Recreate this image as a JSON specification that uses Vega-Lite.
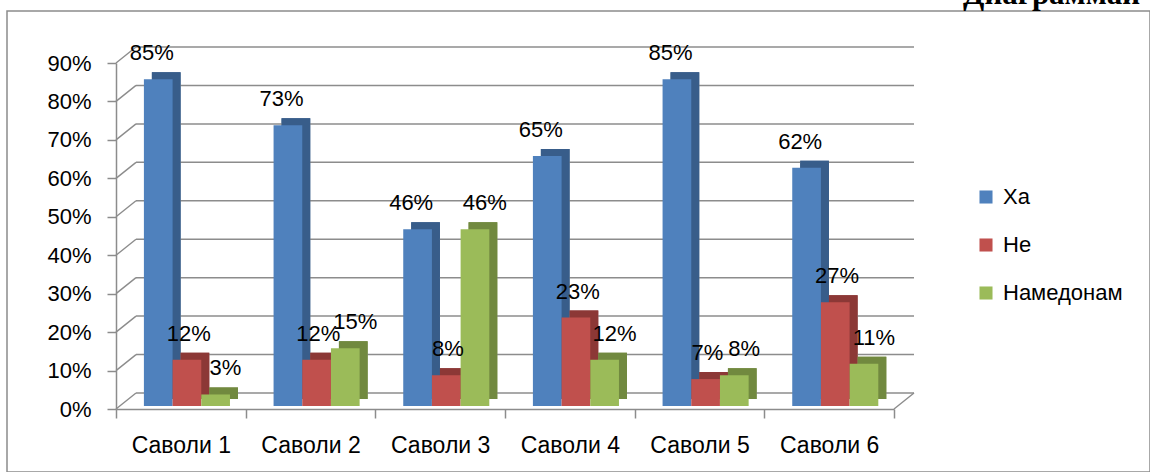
{
  "$schema": "https://vega.github.io/schema/vega-lite/v6.json",
  "width": 1143,
  "height": 461,
  "autosize": "none",
  "padding": {"left": 7, "top": 11, "right": 0, "bottom": 0},
  "background": "white",
  "config": {
    "view": {"stroke": "#8c8c8c", "strokeWidth": 1.5},
    "font": "Liberation Sans"
  },
  "title": {
    "text": "Диаграммаи",
    "anchor": "end",
    "frame": "group",
    "font": "Liberation Serif",
    "fontWeight": "bold",
    "fontSize": 31,
    "color": "black",
    "baseline": "alphabetic",
    "offset": 6,
    "dx": -10,
    "dy": 30
  },
  "datasets": {
    "bars": [
      {"q": "Саволи 1", "s": "Ха", "v": 0.85},
      {"q": "Саволи 1", "s": "Не", "v": 0.12},
      {"q": "Саволи 1", "s": "Намедонам", "v": 0.03},
      {"q": "Саволи 2", "s": "Ха", "v": 0.73},
      {"q": "Саволи 2", "s": "Не", "v": 0.12},
      {"q": "Саволи 2", "s": "Намедонам", "v": 0.15},
      {"q": "Саволи 3", "s": "Ха", "v": 0.46},
      {"q": "Саволи 3", "s": "Не", "v": 0.08},
      {"q": "Саволи 3", "s": "Намедонам", "v": 0.46},
      {"q": "Саволи 4", "s": "Ха", "v": 0.65},
      {"q": "Саволи 4", "s": "Не", "v": 0.23},
      {"q": "Саволи 4", "s": "Намедонам", "v": 0.12},
      {"q": "Саволи 5", "s": "Ха", "v": 0.85},
      {"q": "Саволи 5", "s": "Не", "v": 0.07},
      {"q": "Саволи 5", "s": "Намедонам", "v": 0.08},
      {"q": "Саволи 6", "s": "Ха", "v": 0.62},
      {"q": "Саволи 6", "s": "Не", "v": 0.27},
      {"q": "Саволи 6", "s": "Намедонам", "v": 0.11}
    ],
    "grid": [
      {"v": 0}, {"v": 0.1}, {"v": 0.2}, {"v": 0.3}, {"v": 0.4},
      {"v": 0.5}, {"v": 0.6}, {"v": 0.7}, {"v": 0.8}, {"v": 0.9}
    ],
    "floor": [{"v": 0}]
  },
  "layer": [
    {
      "data": {"name": "bars"},
      "mark": {"type": "bar", "yOffset": -10, "y2Offset": -10},
      "encoding": {
        "x": {
          "field": "q", "type": "nominal",
          "scale": {"domain": ["Саволи 1", "Саволи 2", "Саволи 3", "Саволи 4", "Саволи 5", "Саволи 6"], "range": [109, 887], "paddingInner": 0, "paddingOuter": 0},
          "axis": {
            "title": null, "offset": -63, "labelAngle": 0, "tickBand": "extent", "bandPosition": 0.5,
            "tickSize": 9, "tickColor": "#8c8c8c", "tickWidth": 1.5,
            "domainColor": "#8c8c8c", "domainWidth": 1.5,
            "labelFontSize": 23, "labelColor": "black", "labelPadding": 16
          }
        },
        "xOffset": {
          "field": "s", "type": "nominal",
          "scale": {"domain": ["Ха", "Не", "Намедонам"], "paddingInner": 0, "paddingOuter": 0.76, "align": 0.823}
        },
        "y": {
          "field": "v", "type": "quantitative",
          "scale": {"domain": [0, 0.9], "range": [398, 52], "nice": false, "zero": true},
          "axis": {
            "title": null, "offset": -109, "values": [0, 0.1, 0.2, 0.3, 0.4, 0.5, 0.6, 0.7, 0.8, 0.9],
            "format": ".0%", "grid": false, "tickSize": 9, "tickColor": "#8c8c8c", "tickWidth": 1.5,
            "domainColor": "#8c8c8c", "domainWidth": 1.5,
            "labelFontSize": 22, "labelColor": "black", "labelPadding": 16
          }
        },
        "color": {
          "field": "s", "type": "nominal",
          "scale": {"domain": ["Ха", "Не", "Намедонам"], "range": ["#385D8A", "#8C3836", "#71893F"]},
          "legend": null
        }
      }
    },
    {
      "data": {"name": "grid"},
      "mark": {"type": "rule", "color": "#8c8c8c", "strokeWidth": 1.5, "xOffset": 20, "x2Offset": 20, "yOffset": -16},
      "encoding": {
        "x": {"datum": "Саволи 1", "bandPosition": 0, "type": "nominal"},
        "x2": {"datum": "Саволи 6", "bandPosition": 1},
        "y": {"field": "v", "type": "quantitative"}
      }
    },
    {
      "data": {"name": "grid"},
      "mark": {"type": "rule", "color": "#8c8c8c", "strokeWidth": 1.5, "x2Offset": 20, "y2Offset": -16},
      "encoding": {
        "x": {"datum": "Саволи 1", "bandPosition": 0, "type": "nominal"},
        "x2": {"datum": "Саволи 1", "bandPosition": 0},
        "y": {"field": "v", "type": "quantitative"},
        "y2": {"field": "v"}
      }
    },
    {
      "data": {"name": "floor"},
      "mark": {"type": "rule", "color": "#8c8c8c", "strokeWidth": 1.5, "x2Offset": 20, "y2Offset": -16},
      "encoding": {
        "x": {"datum": "Саволи 6", "bandPosition": 1, "type": "nominal"},
        "x2": {"datum": "Саволи 6", "bandPosition": 1},
        "y": {"field": "v", "type": "quantitative"},
        "y2": {"field": "v"}
      }
    },
    {
      "data": {"name": "bars"},
      "mark": {"type": "bar", "yOffset": -10, "y2Offset": -10},
      "encoding": {
        "x": {"field": "q", "type": "nominal"},
        "xOffset": {
          "field": "s", "type": "nominal",
          "scale": {"domain": ["Ха", "Не", "Намедонам"], "paddingInner": 0, "paddingOuter": 0.76, "align": 0.823}
        },
        "y": {"field": "v", "type": "quantitative"},
        "color": {
          "field": "s", "type": "nominal",
          "scale": {"domain": ["Ха", "Не", "Намедонам"], "range": ["#385D8A", "#8C3836", "#71893F"]},
          "legend": null
        }
      }
    },
    {
      "data": {"name": "bars"},
      "mark": {"type": "bar", "yOffset": -3, "y2Offset": -3},
      "encoding": {
        "x": {"field": "q", "type": "nominal"},
        "xOffset": {
          "field": "s", "type": "nominal",
          "scale": {"domain": ["Ха", "Не", "Намедонам"], "paddingInner": 0, "paddingOuter": 0.76, "align": 0.64}
        },
        "y": {"field": "v", "type": "quantitative"},
        "color": {
          "field": "s", "type": "nominal",
          "scale": {"domain": ["Ха", "Не", "Намедонам"], "range": ["#4F81BD", "#C0504D", "#9BBB59"]},
          "legend": {
            "title": null, "orient": "none", "legendX": 968, "legendY": 175,
            "symbolType": "square", "symbolSize": 170, "symbolStrokeWidth": 0,
            "labelFontSize": 22, "labelColor": "black", "rowPadding": 26, "labelOffset": 6, "padding": 0
          }
        }
      }
    },
    {
      "data": {"name": "bars"},
      "mark": {"type": "text", "fontSize": 22, "color": "black", "baseline": "alphabetic", "dy": -22, "align": "center"},
      "encoding": {
        "x": {"field": "q", "type": "nominal"},
        "xOffset": {
          "field": "s", "type": "nominal",
          "scale": {"domain": ["Ха", "Не", "Намедонам"], "paddingInner": 0, "paddingOuter": 0.76, "align": 0.64}
        },
        "y": {"field": "v", "type": "quantitative"},
        "text": {"field": "v", "type": "quantitative", "format": ".0%"}
      }
    }
  ],
  "resolve": {"scale": {"color": "independent", "xOffset": "independent"}}
}
